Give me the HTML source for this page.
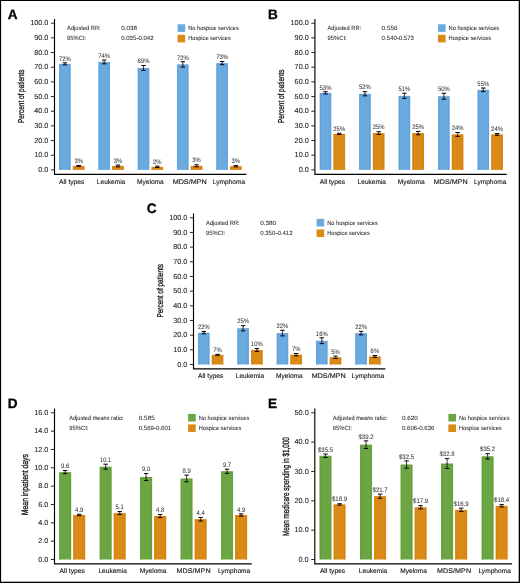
<!DOCTYPE html>
<html><head><meta charset="utf-8"><style>
html,body{margin:0;padding:0;background:#fff;}
body{width:520px;height:583px;overflow:hidden;position:relative;}
svg{position:absolute;left:0;top:0;display:block;font-family:"Liberation Sans", sans-serif;}
text{text-rendering:geometricPrecision;}
.t{will-change:transform;}
</style></head><body>
<svg width="520" height="583" viewBox="0 0 520 583">
<rect x="0" y="0" width="520" height="583" fill="#fff"/>
<g transform="translate(0 0)"><path d="M54.5 19 V174.3 H246.4" fill="none" stroke="#000" stroke-width="1.15"/><path d="M50.9 169.9 H54.5" stroke="#111" stroke-width="0.9"/><path d="M50.9 155.23 H54.5" stroke="#111" stroke-width="0.9"/><path d="M50.9 140.56 H54.5" stroke="#111" stroke-width="0.9"/><path d="M50.9 125.89 H54.5" stroke="#111" stroke-width="0.9"/><path d="M50.9 111.22 H54.5" stroke="#111" stroke-width="0.9"/><path d="M50.9 96.55 H54.5" stroke="#111" stroke-width="0.9"/><path d="M50.9 81.88 H54.5" stroke="#111" stroke-width="0.9"/><path d="M50.9 67.21 H54.5" stroke="#111" stroke-width="0.9"/><path d="M50.9 52.54 H54.5" stroke="#111" stroke-width="0.9"/><path d="M50.9 37.87 H54.5" stroke="#111" stroke-width="0.9"/><path d="M50.9 23.2 H54.5" stroke="#111" stroke-width="0.9"/><rect x="177.6" y="24.3" width="7.6" height="7.6" fill="#6aaadf"/><rect x="177.6" y="34.8" width="7.6" height="7.6" fill="#da8a16"/><rect x="59.05" y="63.84" width="11.7" height="106.06" fill="#6aaadf"/><path d="M59.95 169.9 V64.74 H69.65 V169.9" fill="none" stroke="#60a2dc" stroke-width="1"/><path d="M64.9 62.79 V63.84" stroke="#3a2228" stroke-width="0.9"/><path d="M64.9 63.84 V64.89" stroke="#111" stroke-width="0.9"/><path d="M62.7 62.79 H67.1 M62.7 64.89 H67.1" stroke="#000" stroke-width="1"/><rect x="64.3" y="63.34" width="1.2" height="1" fill="#8c2a40"/><rect x="72.8" y="165.94" width="11.7" height="3.96" fill="#da8a16"/><path d="M73.7 169.9 V166.84 H83.4 V169.9" fill="none" stroke="#d6820e" stroke-width="1"/><path d="M78.65 165.44 V165.94" stroke="#3a2228" stroke-width="0.9"/><path d="M78.65 165.94 V166.44" stroke="#111" stroke-width="0.9"/><path d="M76.45 165.44 H80.85 M76.45 166.44 H80.85" stroke="#000" stroke-width="1"/><rect x="78.05" y="165.44" width="1.2" height="1" fill="#8c2a40"/><rect x="98.35" y="61.93" width="11.7" height="107.97" fill="#6aaadf"/><path d="M99.25 169.9 V62.83 H108.95 V169.9" fill="none" stroke="#60a2dc" stroke-width="1"/><path d="M104.2 60.03 V61.93" stroke="#3a2228" stroke-width="0.9"/><path d="M104.2 61.93 V63.83" stroke="#111" stroke-width="0.9"/><path d="M102 60.03 H106.4 M102 63.83 H106.4" stroke="#000" stroke-width="1"/><rect x="103.6" y="61.43" width="1.2" height="1" fill="#8c2a40"/><rect x="112.1" y="165.94" width="11.7" height="3.96" fill="#da8a16"/><path d="M113 169.9 V166.84 H122.7 V169.9" fill="none" stroke="#d6820e" stroke-width="1"/><path d="M117.95 165.04 V165.94" stroke="#3a2228" stroke-width="0.9"/><path d="M117.95 165.94 V166.84" stroke="#111" stroke-width="0.9"/><path d="M115.75 165.04 H120.15 M115.75 166.84 H120.15" stroke="#000" stroke-width="1"/><rect x="117.35" y="165.44" width="1.2" height="1" fill="#8c2a40"/><rect x="137.65" y="67.94" width="11.7" height="101.96" fill="#6aaadf"/><path d="M138.55 169.9 V68.84 H148.25 V169.9" fill="none" stroke="#60a2dc" stroke-width="1"/><path d="M143.5 65.54 V67.94" stroke="#3a2228" stroke-width="0.9"/><path d="M143.5 67.94 V70.34" stroke="#111" stroke-width="0.9"/><path d="M141.3 65.54 H145.7 M141.3 70.34 H145.7" stroke="#000" stroke-width="1"/><rect x="142.9" y="67.44" width="1.2" height="1" fill="#8c2a40"/><rect x="151.4" y="166.82" width="11.7" height="3.08" fill="#da8a16"/><path d="M152.3 169.9 V167.72 H162 V169.9" fill="none" stroke="#d6820e" stroke-width="1"/><path d="M157.25 166.12 V166.82" stroke="#3a2228" stroke-width="0.9"/><path d="M157.25 166.82 V167.52" stroke="#111" stroke-width="0.9"/><path d="M155.05 166.12 H159.45 M155.05 167.52 H159.45" stroke="#000" stroke-width="1"/><rect x="156.65" y="166.32" width="1.2" height="1" fill="#8c2a40"/><rect x="176.95" y="64.42" width="11.7" height="105.48" fill="#6aaadf"/><path d="M177.85 169.9 V65.32 H187.55 V169.9" fill="none" stroke="#60a2dc" stroke-width="1"/><path d="M182.8 61.72 V64.42" stroke="#3a2228" stroke-width="0.9"/><path d="M182.8 64.42 V67.12" stroke="#111" stroke-width="0.9"/><path d="M180.6 61.72 H185 M180.6 67.12 H185" stroke="#000" stroke-width="1"/><rect x="182.2" y="63.92" width="1.2" height="1" fill="#8c2a40"/><rect x="190.7" y="165.79" width="11.7" height="4.11" fill="#da8a16"/><path d="M191.6 169.9 V166.69 H201.3 V169.9" fill="none" stroke="#d6820e" stroke-width="1"/><path d="M196.55 164.79 V165.79" stroke="#3a2228" stroke-width="0.9"/><path d="M196.55 165.79 V166.79" stroke="#111" stroke-width="0.9"/><path d="M194.35 164.79 H198.75 M194.35 166.79 H198.75" stroke="#000" stroke-width="1"/><rect x="195.95" y="165.29" width="1.2" height="1" fill="#8c2a40"/><rect x="216.25" y="63.1" width="11.7" height="106.8" fill="#6aaadf"/><path d="M217.15 169.9 V64 H226.85 V169.9" fill="none" stroke="#60a2dc" stroke-width="1"/><path d="M222.1 61.5 V63.1" stroke="#3a2228" stroke-width="0.9"/><path d="M222.1 63.1 V64.7" stroke="#111" stroke-width="0.9"/><path d="M219.9 61.5 H224.3 M219.9 64.7 H224.3" stroke="#000" stroke-width="1"/><rect x="221.5" y="62.6" width="1.2" height="1" fill="#8c2a40"/><rect x="230" y="166.23" width="11.7" height="3.67" fill="#da8a16"/><path d="M230.9 169.9 V167.13 H240.6 V169.9" fill="none" stroke="#d6820e" stroke-width="1"/><path d="M235.85 165.63 V166.23" stroke="#3a2228" stroke-width="0.9"/><path d="M235.85 166.23 V166.83" stroke="#111" stroke-width="0.9"/><path d="M233.65 165.63 H238.05 M233.65 166.83 H238.05" stroke="#000" stroke-width="1"/><rect x="235.25" y="165.73" width="1.2" height="1" fill="#8c2a40"/></g><g transform="translate(260.4 0)"><path d="M54.5 19 V174.3 H246.4" fill="none" stroke="#000" stroke-width="1.15"/><path d="M50.9 169.9 H54.5" stroke="#111" stroke-width="0.9"/><path d="M50.9 155.23 H54.5" stroke="#111" stroke-width="0.9"/><path d="M50.9 140.56 H54.5" stroke="#111" stroke-width="0.9"/><path d="M50.9 125.89 H54.5" stroke="#111" stroke-width="0.9"/><path d="M50.9 111.22 H54.5" stroke="#111" stroke-width="0.9"/><path d="M50.9 96.55 H54.5" stroke="#111" stroke-width="0.9"/><path d="M50.9 81.88 H54.5" stroke="#111" stroke-width="0.9"/><path d="M50.9 67.21 H54.5" stroke="#111" stroke-width="0.9"/><path d="M50.9 52.54 H54.5" stroke="#111" stroke-width="0.9"/><path d="M50.9 37.87 H54.5" stroke="#111" stroke-width="0.9"/><path d="M50.9 23.2 H54.5" stroke="#111" stroke-width="0.9"/><rect x="177.6" y="24.3" width="7.6" height="7.6" fill="#6aaadf"/><rect x="177.6" y="34.8" width="7.6" height="7.6" fill="#da8a16"/><rect x="59.25" y="92.88" width="11.7" height="77.02" fill="#6aaadf"/><path d="M60.15 169.9 V93.78 H69.85 V169.9" fill="none" stroke="#60a2dc" stroke-width="1"/><path d="M65.1 91.73 V92.88" stroke="#3a2228" stroke-width="0.9"/><path d="M65.1 92.88 V94.03" stroke="#111" stroke-width="0.9"/><path d="M62.9 91.73 H67.3 M62.9 94.03 H67.3" stroke="#000" stroke-width="1"/><rect x="64.5" y="92.38" width="1.2" height="1" fill="#8c2a40"/><rect x="73" y="133.81" width="11.7" height="36.09" fill="#da8a16"/><path d="M73.9 169.9 V134.71 H83.6 V169.9" fill="none" stroke="#d6820e" stroke-width="1"/><path d="M78.85 133.21 V133.81" stroke="#3a2228" stroke-width="0.9"/><path d="M78.85 133.81 V134.41" stroke="#111" stroke-width="0.9"/><path d="M76.65 133.21 H81.05 M76.65 134.41 H81.05" stroke="#000" stroke-width="1"/><rect x="78.25" y="133.31" width="1.2" height="1" fill="#8c2a40"/><rect x="98.7" y="93.76" width="11.7" height="76.14" fill="#6aaadf"/><path d="M99.6 169.9 V94.66 H109.3 V169.9" fill="none" stroke="#60a2dc" stroke-width="1"/><path d="M104.55 91.66 V93.76" stroke="#3a2228" stroke-width="0.9"/><path d="M104.55 93.76 V95.86" stroke="#111" stroke-width="0.9"/><path d="M102.35 91.66 H106.75 M102.35 95.86 H106.75" stroke="#000" stroke-width="1"/><rect x="103.95" y="93.26" width="1.2" height="1" fill="#8c2a40"/><rect x="112.45" y="133.08" width="11.7" height="36.82" fill="#da8a16"/><path d="M113.35 169.9 V133.98 H123.05 V169.9" fill="none" stroke="#d6820e" stroke-width="1"/><path d="M118.3 131.68 V133.08" stroke="#3a2228" stroke-width="0.9"/><path d="M118.3 133.08 V134.48" stroke="#111" stroke-width="0.9"/><path d="M116.1 131.68 H120.5 M116.1 134.48 H120.5" stroke="#000" stroke-width="1"/><rect x="117.7" y="132.58" width="1.2" height="1" fill="#8c2a40"/><rect x="138.15" y="95.82" width="11.7" height="74.08" fill="#6aaadf"/><path d="M139.05 169.9 V96.72 H148.75 V169.9" fill="none" stroke="#60a2dc" stroke-width="1"/><path d="M144 93.22 V95.82" stroke="#3a2228" stroke-width="0.9"/><path d="M144 95.82 V98.42" stroke="#111" stroke-width="0.9"/><path d="M141.8 93.22 H146.2 M141.8 98.42 H146.2" stroke="#000" stroke-width="1"/><rect x="143.4" y="95.32" width="1.2" height="1" fill="#8c2a40"/><rect x="151.9" y="133.08" width="11.7" height="36.82" fill="#da8a16"/><path d="M152.8 169.9 V133.98 H162.5 V169.9" fill="none" stroke="#d6820e" stroke-width="1"/><path d="M157.75 131.38 V133.08" stroke="#3a2228" stroke-width="0.9"/><path d="M157.75 133.08 V134.78" stroke="#111" stroke-width="0.9"/><path d="M155.55 131.38 H159.95 M155.55 134.78 H159.95" stroke="#000" stroke-width="1"/><rect x="157.15" y="132.58" width="1.2" height="1" fill="#8c2a40"/><rect x="177.6" y="96.26" width="11.7" height="73.64" fill="#6aaadf"/><path d="M178.5 169.9 V97.16 H188.2 V169.9" fill="none" stroke="#60a2dc" stroke-width="1"/><path d="M183.45 93.31 V96.26" stroke="#3a2228" stroke-width="0.9"/><path d="M183.45 96.26 V99.21" stroke="#111" stroke-width="0.9"/><path d="M181.25 93.31 H185.65 M181.25 99.21 H185.65" stroke="#000" stroke-width="1"/><rect x="182.85" y="95.76" width="1.2" height="1" fill="#8c2a40"/><rect x="191.35" y="134.4" width="11.7" height="35.5" fill="#da8a16"/><path d="M192.25 169.9 V135.3 H201.95 V169.9" fill="none" stroke="#d6820e" stroke-width="1"/><path d="M197.2 132.5 V134.4" stroke="#3a2228" stroke-width="0.9"/><path d="M197.2 134.4 V136.3" stroke="#111" stroke-width="0.9"/><path d="M195 132.5 H199.4 M195 136.3 H199.4" stroke="#000" stroke-width="1"/><rect x="196.6" y="133.9" width="1.2" height="1" fill="#8c2a40"/><rect x="217.05" y="89.8" width="11.7" height="80.1" fill="#6aaadf"/><path d="M217.95 169.9 V90.7 H227.65 V169.9" fill="none" stroke="#60a2dc" stroke-width="1"/><path d="M222.9 88 V89.8" stroke="#3a2228" stroke-width="0.9"/><path d="M222.9 89.8 V91.6" stroke="#111" stroke-width="0.9"/><path d="M220.7 88 H225.1 M220.7 91.6 H225.1" stroke="#000" stroke-width="1"/><rect x="222.3" y="89.3" width="1.2" height="1" fill="#8c2a40"/><rect x="230.8" y="134.4" width="11.7" height="35.5" fill="#da8a16"/><path d="M231.7 169.9 V135.3 H241.4 V169.9" fill="none" stroke="#d6820e" stroke-width="1"/><path d="M236.65 133.55 V134.4" stroke="#3a2228" stroke-width="0.9"/><path d="M236.65 134.4 V135.25" stroke="#111" stroke-width="0.9"/><path d="M234.45 133.55 H238.85 M234.45 135.25 H238.85" stroke="#000" stroke-width="1"/><rect x="236.05" y="133.9" width="1.2" height="1" fill="#8c2a40"/></g><g transform="translate(139 194.6)"><path d="M54.5 19 V174.3 H246.4" fill="none" stroke="#000" stroke-width="1.15"/><path d="M50.9 169.9 H54.5" stroke="#111" stroke-width="0.9"/><path d="M50.9 155.23 H54.5" stroke="#111" stroke-width="0.9"/><path d="M50.9 140.56 H54.5" stroke="#111" stroke-width="0.9"/><path d="M50.9 125.89 H54.5" stroke="#111" stroke-width="0.9"/><path d="M50.9 111.22 H54.5" stroke="#111" stroke-width="0.9"/><path d="M50.9 96.55 H54.5" stroke="#111" stroke-width="0.9"/><path d="M50.9 81.88 H54.5" stroke="#111" stroke-width="0.9"/><path d="M50.9 67.21 H54.5" stroke="#111" stroke-width="0.9"/><path d="M50.9 52.54 H54.5" stroke="#111" stroke-width="0.9"/><path d="M50.9 37.87 H54.5" stroke="#111" stroke-width="0.9"/><path d="M50.9 23.2 H54.5" stroke="#111" stroke-width="0.9"/><rect x="177.6" y="24.3" width="7.6" height="7.6" fill="#6aaadf"/><rect x="177.6" y="34.8" width="7.6" height="7.6" fill="#da8a16"/><rect x="58.95" y="138.07" width="11.7" height="31.83" fill="#6aaadf"/><path d="M59.85 169.9 V138.97 H69.55 V169.9" fill="none" stroke="#60a2dc" stroke-width="1"/><path d="M64.8 136.87 V138.07" stroke="#3a2228" stroke-width="0.9"/><path d="M64.8 138.07 V139.27" stroke="#111" stroke-width="0.9"/><path d="M62.6 136.87 H67 M62.6 139.27 H67" stroke="#000" stroke-width="1"/><rect x="64.2" y="137.57" width="1.2" height="1" fill="#8c2a40"/><rect x="72.7" y="160.22" width="11.7" height="9.68" fill="#da8a16"/><path d="M73.6 169.9 V161.12 H83.3 V169.9" fill="none" stroke="#d6820e" stroke-width="1"/><path d="M78.55 159.72 V160.22" stroke="#3a2228" stroke-width="0.9"/><path d="M78.55 160.22 V160.72" stroke="#111" stroke-width="0.9"/><path d="M76.35 159.72 H80.75 M76.35 160.72 H80.75" stroke="#000" stroke-width="1"/><rect x="77.95" y="159.72" width="1.2" height="1" fill="#8c2a40"/><rect x="98.28" y="133.67" width="11.7" height="36.23" fill="#6aaadf"/><path d="M99.18 169.9 V134.57 H108.88 V169.9" fill="none" stroke="#60a2dc" stroke-width="1"/><path d="M104.13 131.07 V133.67" stroke="#3a2228" stroke-width="0.9"/><path d="M104.13 133.67 V136.27" stroke="#111" stroke-width="0.9"/><path d="M101.93 131.07 H106.33 M101.93 136.27 H106.33" stroke="#000" stroke-width="1"/><rect x="103.53" y="133.17" width="1.2" height="1" fill="#8c2a40"/><rect x="112.03" y="155.38" width="11.7" height="14.52" fill="#da8a16"/><path d="M112.93 169.9 V156.28 H122.63 V169.9" fill="none" stroke="#d6820e" stroke-width="1"/><path d="M117.88 153.98 V155.38" stroke="#3a2228" stroke-width="0.9"/><path d="M117.88 155.38 V156.78" stroke="#111" stroke-width="0.9"/><path d="M115.68 153.98 H120.08 M115.68 156.78 H120.08" stroke="#000" stroke-width="1"/><rect x="117.28" y="154.88" width="1.2" height="1" fill="#8c2a40"/><rect x="137.61" y="138.51" width="11.7" height="31.39" fill="#6aaadf"/><path d="M138.51 169.9 V139.41 H148.21 V169.9" fill="none" stroke="#60a2dc" stroke-width="1"/><path d="M143.46 135.71 V138.51" stroke="#3a2228" stroke-width="0.9"/><path d="M143.46 138.51 V141.31" stroke="#111" stroke-width="0.9"/><path d="M141.26 135.71 H145.66 M141.26 141.31 H145.66" stroke="#000" stroke-width="1"/><rect x="142.86" y="138.01" width="1.2" height="1" fill="#8c2a40"/><rect x="151.36" y="160.07" width="11.7" height="9.83" fill="#da8a16"/><path d="M152.26 169.9 V160.97 H161.96 V169.9" fill="none" stroke="#d6820e" stroke-width="1"/><path d="M157.21 158.87 V160.07" stroke="#3a2228" stroke-width="0.9"/><path d="M157.21 160.07 V161.27" stroke="#111" stroke-width="0.9"/><path d="M155.01 158.87 H159.41 M155.01 161.27 H159.41" stroke="#000" stroke-width="1"/><rect x="156.61" y="159.57" width="1.2" height="1" fill="#8c2a40"/><rect x="176.94" y="146.13" width="11.7" height="23.77" fill="#6aaadf"/><path d="M177.84 169.9 V147.03 H187.54 V169.9" fill="none" stroke="#60a2dc" stroke-width="1"/><path d="M182.79 143.23 V146.13" stroke="#3a2228" stroke-width="0.9"/><path d="M182.79 146.13 V149.03" stroke="#111" stroke-width="0.9"/><path d="M180.59 143.23 H184.99 M180.59 149.03 H184.99" stroke="#000" stroke-width="1"/><rect x="182.19" y="145.63" width="1.2" height="1" fill="#8c2a40"/><rect x="190.69" y="162.71" width="11.7" height="7.19" fill="#da8a16"/><path d="M191.59 169.9 V163.61 H201.29 V169.9" fill="none" stroke="#d6820e" stroke-width="1"/><path d="M196.54 161.51 V162.71" stroke="#3a2228" stroke-width="0.9"/><path d="M196.54 162.71 V163.91" stroke="#111" stroke-width="0.9"/><path d="M194.34 161.51 H198.74 M194.34 163.91 H198.74" stroke="#000" stroke-width="1"/><rect x="195.94" y="162.21" width="1.2" height="1" fill="#8c2a40"/><rect x="216.27" y="138.51" width="11.7" height="31.39" fill="#6aaadf"/><path d="M217.17 169.9 V139.41 H226.87 V169.9" fill="none" stroke="#60a2dc" stroke-width="1"/><path d="M222.12 136.71 V138.51" stroke="#3a2228" stroke-width="0.9"/><path d="M222.12 138.51 V140.31" stroke="#111" stroke-width="0.9"/><path d="M219.92 136.71 H224.32 M219.92 140.31 H224.32" stroke="#000" stroke-width="1"/><rect x="221.52" y="138.01" width="1.2" height="1" fill="#8c2a40"/><rect x="230.02" y="161.83" width="11.7" height="8.07" fill="#da8a16"/><path d="M230.92 169.9 V162.73 H240.62 V169.9" fill="none" stroke="#d6820e" stroke-width="1"/><path d="M235.87 160.88 V161.83" stroke="#3a2228" stroke-width="0.9"/><path d="M235.87 161.83 V162.78" stroke="#111" stroke-width="0.9"/><path d="M233.67 160.88 H238.07 M233.67 162.78 H238.07" stroke="#000" stroke-width="1"/><rect x="235.27" y="161.33" width="1.2" height="1" fill="#8c2a40"/></g><g transform="translate(0 389.6)"><path d="M54.5 19 V174.3 H251.8" fill="none" stroke="#000" stroke-width="1.15"/><path d="M50.9 169.9 H54.5" stroke="#111" stroke-width="0.9"/><path d="M50.9 151.56 H54.5" stroke="#111" stroke-width="0.9"/><path d="M50.9 133.22 H54.5" stroke="#111" stroke-width="0.9"/><path d="M50.9 114.89 H54.5" stroke="#111" stroke-width="0.9"/><path d="M50.9 96.55 H54.5" stroke="#111" stroke-width="0.9"/><path d="M50.9 78.21 H54.5" stroke="#111" stroke-width="0.9"/><path d="M50.9 59.88 H54.5" stroke="#111" stroke-width="0.9"/><path d="M50.9 41.54 H54.5" stroke="#111" stroke-width="0.9"/><path d="M50.9 23.2 H54.5" stroke="#111" stroke-width="0.9"/><rect x="188.1" y="24.3" width="7.6" height="7.6" fill="#6ca644"/><rect x="188.1" y="34.8" width="7.6" height="7.6" fill="#da8a16"/><rect x="59.15" y="82.5" width="12.05" height="87.4" fill="#6ca644"/><path d="M60.05 169.9 V83.4 H70.1 V169.9" fill="none" stroke="#62a03a" stroke-width="1"/><path d="M65.17 80.9 V82.5" stroke="#3a2228" stroke-width="0.9"/><path d="M65.17 82.5 V84.1" stroke="#111" stroke-width="0.9"/><path d="M62.97 80.9 H67.38 M62.97 84.1 H67.38" stroke="#000" stroke-width="1"/><rect x="64.58" y="82" width="1.2" height="1" fill="#8c2a40"/><rect x="73.2" y="125.4" width="12.05" height="44.5" fill="#da8a16"/><path d="M74.1 169.9 V126.3 H84.15 V169.9" fill="none" stroke="#d6820e" stroke-width="1"/><path d="M79.23 124.65 V125.4" stroke="#3a2228" stroke-width="0.9"/><path d="M79.23 125.4 V126.15" stroke="#111" stroke-width="0.9"/><path d="M77.03 124.65 H81.43 M77.03 126.15 H81.43" stroke="#000" stroke-width="1"/><rect x="78.63" y="124.9" width="1.2" height="1" fill="#8c2a40"/><rect x="99.62" y="77.1" width="12.05" height="92.8" fill="#6ca644"/><path d="M100.52 169.9 V78 H110.57 V169.9" fill="none" stroke="#62a03a" stroke-width="1"/><path d="M105.65 74.6 V77.1" stroke="#3a2228" stroke-width="0.9"/><path d="M105.65 77.1 V79.6" stroke="#111" stroke-width="0.9"/><path d="M103.45 74.6 H107.85 M103.45 79.6 H107.85" stroke="#000" stroke-width="1"/><rect x="105.05" y="76.6" width="1.2" height="1" fill="#8c2a40"/><rect x="113.67" y="123.49" width="12.05" height="46.41" fill="#da8a16"/><path d="M114.57 169.9 V124.39 H124.62 V169.9" fill="none" stroke="#d6820e" stroke-width="1"/><path d="M119.7 121.99 V123.49" stroke="#3a2228" stroke-width="0.9"/><path d="M119.7 123.49 V124.99" stroke="#111" stroke-width="0.9"/><path d="M117.5 121.99 H121.9 M117.5 124.99 H121.9" stroke="#000" stroke-width="1"/><rect x="119.1" y="122.99" width="1.2" height="1" fill="#8c2a40"/><rect x="140.09" y="87.42" width="12.05" height="82.48" fill="#6ca644"/><path d="M140.99 169.9 V88.32 H151.04 V169.9" fill="none" stroke="#62a03a" stroke-width="1"/><path d="M146.12 83.97 V87.42" stroke="#3a2228" stroke-width="0.9"/><path d="M146.12 87.42 V90.87" stroke="#111" stroke-width="0.9"/><path d="M143.92 83.97 H148.31 M143.92 90.87 H148.31" stroke="#000" stroke-width="1"/><rect x="145.52" y="86.92" width="1.2" height="1" fill="#8c2a40"/><rect x="154.14" y="126.41" width="12.05" height="43.49" fill="#da8a16"/><path d="M155.04 169.9 V127.31 H165.09 V169.9" fill="none" stroke="#d6820e" stroke-width="1"/><path d="M160.17 124.81 V126.41" stroke="#3a2228" stroke-width="0.9"/><path d="M160.17 126.41 V128.01" stroke="#111" stroke-width="0.9"/><path d="M157.97 124.81 H162.37 M157.97 128.01 H162.37" stroke="#000" stroke-width="1"/><rect x="159.57" y="125.91" width="1.2" height="1" fill="#8c2a40"/><rect x="180.56" y="88.88" width="12.05" height="81.02" fill="#6ca644"/><path d="M181.46 169.9 V89.78 H191.51 V169.9" fill="none" stroke="#62a03a" stroke-width="1"/><path d="M186.59 85.53 V88.88" stroke="#3a2228" stroke-width="0.9"/><path d="M186.59 88.88 V92.23" stroke="#111" stroke-width="0.9"/><path d="M184.39 85.53 H188.78 M184.39 92.23 H188.78" stroke="#000" stroke-width="1"/><rect x="185.99" y="88.38" width="1.2" height="1" fill="#8c2a40"/><rect x="194.61" y="129.6" width="12.05" height="40.3" fill="#da8a16"/><path d="M195.51 169.9 V130.5 H205.56 V169.9" fill="none" stroke="#d6820e" stroke-width="1"/><path d="M200.64 127.8 V129.6" stroke="#3a2228" stroke-width="0.9"/><path d="M200.64 129.6 V131.4" stroke="#111" stroke-width="0.9"/><path d="M198.44 127.8 H202.84 M198.44 131.4 H202.84" stroke="#000" stroke-width="1"/><rect x="200.04" y="129.1" width="1.2" height="1" fill="#8c2a40"/><rect x="221.03" y="81.67" width="12.05" height="88.23" fill="#6ca644"/><path d="M221.93 169.9 V82.57 H231.98 V169.9" fill="none" stroke="#62a03a" stroke-width="1"/><path d="M227.06 79.57 V81.67" stroke="#3a2228" stroke-width="0.9"/><path d="M227.06 81.67 V83.77" stroke="#111" stroke-width="0.9"/><path d="M224.86 79.57 H229.25 M224.86 83.77 H229.25" stroke="#000" stroke-width="1"/><rect x="226.46" y="81.17" width="1.2" height="1" fill="#8c2a40"/><rect x="235.08" y="125.4" width="12.05" height="44.5" fill="#da8a16"/><path d="M235.98 169.9 V126.3 H246.03 V169.9" fill="none" stroke="#d6820e" stroke-width="1"/><path d="M241.11 124.3 V125.4" stroke="#3a2228" stroke-width="0.9"/><path d="M241.11 125.4 V126.5" stroke="#111" stroke-width="0.9"/><path d="M238.91 124.3 H243.31 M238.91 126.5 H243.31" stroke="#000" stroke-width="1"/><rect x="240.51" y="124.9" width="1.2" height="1" fill="#8c2a40"/></g><g transform="translate(260.3 389.6)"><path d="M54.5 19 V174.3 H251.8" fill="none" stroke="#000" stroke-width="1.15"/><path d="M50.9 169.9 H54.5" stroke="#111" stroke-width="0.9"/><path d="M50.9 140.56 H54.5" stroke="#111" stroke-width="0.9"/><path d="M50.9 111.22 H54.5" stroke="#111" stroke-width="0.9"/><path d="M50.9 81.88 H54.5" stroke="#111" stroke-width="0.9"/><path d="M50.9 52.54 H54.5" stroke="#111" stroke-width="0.9"/><path d="M50.9 23.2 H54.5" stroke="#111" stroke-width="0.9"/><rect x="188.1" y="24.3" width="7.6" height="7.6" fill="#6ca644"/><rect x="188.1" y="34.8" width="7.6" height="7.6" fill="#da8a16"/><rect x="59.2" y="66.16" width="12.05" height="103.74" fill="#6ca644"/><path d="M60.1 169.9 V67.06 H70.15 V169.9" fill="none" stroke="#62a03a" stroke-width="1"/><path d="M65.23 64.46 V66.16" stroke="#3a2228" stroke-width="0.9"/><path d="M65.23 66.16 V67.86" stroke="#111" stroke-width="0.9"/><path d="M63.03 64.46 H67.43 M63.03 67.86 H67.43" stroke="#000" stroke-width="1"/><rect x="64.63" y="65.66" width="1.2" height="1" fill="#8c2a40"/><rect x="73.25" y="114.81" width="12.05" height="55.09" fill="#da8a16"/><path d="M74.15 169.9 V115.71 H84.2 V169.9" fill="none" stroke="#d6820e" stroke-width="1"/><path d="M79.28 114.16 V114.81" stroke="#3a2228" stroke-width="0.9"/><path d="M79.28 114.81 V115.46" stroke="#111" stroke-width="0.9"/><path d="M77.08 114.16 H81.48 M77.08 115.46 H81.48" stroke="#000" stroke-width="1"/><rect x="78.68" y="114.31" width="1.2" height="1" fill="#8c2a40"/><rect x="99.72" y="55.06" width="12.05" height="114.84" fill="#6ca644"/><path d="M100.62 169.9 V55.96 H110.67 V169.9" fill="none" stroke="#62a03a" stroke-width="1"/><path d="M105.75 51.26 V55.06" stroke="#3a2228" stroke-width="0.9"/><path d="M105.75 55.06 V58.86" stroke="#111" stroke-width="0.9"/><path d="M103.55 51.26 H107.95 M103.55 58.86 H107.95" stroke="#000" stroke-width="1"/><rect x="105.15" y="54.56" width="1.2" height="1" fill="#8c2a40"/><rect x="113.77" y="106.6" width="12.05" height="63.3" fill="#da8a16"/><path d="M114.67 169.9 V107.5 H124.72 V169.9" fill="none" stroke="#d6820e" stroke-width="1"/><path d="M119.8 104.5 V106.6" stroke="#3a2228" stroke-width="0.9"/><path d="M119.8 106.6 V108.7" stroke="#111" stroke-width="0.9"/><path d="M117.59 104.5 H122 M117.59 108.7 H122" stroke="#000" stroke-width="1"/><rect x="119.2" y="106.1" width="1.2" height="1" fill="#8c2a40"/><rect x="140.24" y="74.93" width="12.05" height="94.97" fill="#6ca644"/><path d="M141.14 169.9 V75.83 H151.19 V169.9" fill="none" stroke="#62a03a" stroke-width="1"/><path d="M146.27 71.28 V74.93" stroke="#3a2228" stroke-width="0.9"/><path d="M146.27 74.93 V78.58" stroke="#111" stroke-width="0.9"/><path d="M144.07 71.28 H148.47 M144.07 78.58 H148.47" stroke="#000" stroke-width="1"/><rect x="145.67" y="74.43" width="1.2" height="1" fill="#8c2a40"/><rect x="154.29" y="117.7" width="12.05" height="52.2" fill="#da8a16"/><path d="M155.19 169.9 V118.6 H165.24 V169.9" fill="none" stroke="#d6820e" stroke-width="1"/><path d="M160.32 116.1 V117.7" stroke="#3a2228" stroke-width="0.9"/><path d="M160.32 117.7 V119.3" stroke="#111" stroke-width="0.9"/><path d="M158.12 116.1 H162.52 M158.12 119.3 H162.52" stroke="#000" stroke-width="1"/><rect x="159.72" y="117.2" width="1.2" height="1" fill="#8c2a40"/><rect x="180.76" y="73.91" width="12.05" height="95.99" fill="#6ca644"/><path d="M181.66 169.9 V74.81 H191.71 V169.9" fill="none" stroke="#62a03a" stroke-width="1"/><path d="M186.78 69.01 V73.91" stroke="#3a2228" stroke-width="0.9"/><path d="M186.78 73.91 V78.81" stroke="#111" stroke-width="0.9"/><path d="M184.59 69.01 H188.98 M184.59 78.81 H188.98" stroke="#000" stroke-width="1"/><rect x="186.19" y="73.41" width="1.2" height="1" fill="#8c2a40"/><rect x="194.81" y="120.22" width="12.05" height="49.68" fill="#da8a16"/><path d="M195.71 169.9 V121.12 H205.76 V169.9" fill="none" stroke="#d6820e" stroke-width="1"/><path d="M200.84 118.52 V120.22" stroke="#3a2228" stroke-width="0.9"/><path d="M200.84 120.22 V121.92" stroke="#111" stroke-width="0.9"/><path d="M198.64 118.52 H203.03 M198.64 121.92 H203.03" stroke="#000" stroke-width="1"/><rect x="200.24" y="119.72" width="1.2" height="1" fill="#8c2a40"/><rect x="221.28" y="66.75" width="12.05" height="103.15" fill="#6ca644"/><path d="M222.18 169.9 V67.65 H232.23 V169.9" fill="none" stroke="#62a03a" stroke-width="1"/><path d="M227.31 64.1 V66.75" stroke="#3a2228" stroke-width="0.9"/><path d="M227.31 66.75 V69.4" stroke="#111" stroke-width="0.9"/><path d="M225.11 64.1 H229.51 M225.11 69.4 H229.51" stroke="#000" stroke-width="1"/><rect x="226.71" y="66.25" width="1.2" height="1" fill="#8c2a40"/><rect x="235.33" y="116.21" width="12.05" height="53.69" fill="#da8a16"/><path d="M236.23 169.9 V117.11 H246.28 V169.9" fill="none" stroke="#d6820e" stroke-width="1"/><path d="M241.36 115.06 V116.21" stroke="#3a2228" stroke-width="0.9"/><path d="M241.36 116.21 V117.36" stroke="#111" stroke-width="0.9"/><path d="M239.16 115.06 H243.56 M239.16 117.36 H243.56" stroke="#000" stroke-width="1"/><rect x="240.76" y="115.71" width="1.2" height="1" fill="#8c2a40"/></g>
<rect x="0" y="0" width="520" height="1" fill="#000"/><rect x="0" y="0" width="1.1" height="583" fill="#000"/><rect x="518.7" y="0" width="1.3" height="583" fill="#000"/><rect x="0" y="581.7" width="520" height="1.3" fill="#000"/>
</svg>
<svg class="t" width="520" height="583" viewBox="0 0 520 583">
<g transform="translate(0 0)"><text x="7.7" y="18.7" font-size="13.6" font-weight="bold" fill="#000" stroke="#000" stroke-width="0.3">A</text><text x="48.4" y="172" font-size="7.3" text-anchor="end" fill="#1a1a1a" stroke="#1a1a1a" stroke-width="0.07">0.0</text><text x="48.4" y="157.33" font-size="7.3" text-anchor="end" fill="#1a1a1a" stroke="#1a1a1a" stroke-width="0.07">10.0</text><text x="48.4" y="142.66" font-size="7.3" text-anchor="end" fill="#1a1a1a" stroke="#1a1a1a" stroke-width="0.07">20.0</text><text x="48.4" y="127.99" font-size="7.3" text-anchor="end" fill="#1a1a1a" stroke="#1a1a1a" stroke-width="0.07">30.0</text><text x="48.4" y="113.32" font-size="7.3" text-anchor="end" fill="#1a1a1a" stroke="#1a1a1a" stroke-width="0.07">40.0</text><text x="48.4" y="98.65" font-size="7.3" text-anchor="end" fill="#1a1a1a" stroke="#1a1a1a" stroke-width="0.07">50.0</text><text x="48.4" y="83.98" font-size="7.3" text-anchor="end" fill="#1a1a1a" stroke="#1a1a1a" stroke-width="0.07">60.0</text><text x="48.4" y="69.31" font-size="7.3" text-anchor="end" fill="#1a1a1a" stroke="#1a1a1a" stroke-width="0.07">70.0</text><text x="48.4" y="54.64" font-size="7.3" text-anchor="end" fill="#1a1a1a" stroke="#1a1a1a" stroke-width="0.07">80.0</text><text x="48.4" y="39.97" font-size="7.3" text-anchor="end" fill="#1a1a1a" stroke="#1a1a1a" stroke-width="0.07">90.0</text><text x="48.4" y="25.3" font-size="7.3" text-anchor="end" fill="#1a1a1a" stroke="#1a1a1a" stroke-width="0.07">100.0</text><text transform="translate(24 96.2) rotate(-90)" x="0" y="0" font-size="8.6" text-anchor="middle" stroke="#111" stroke-width="0.3" textLength="53.5" lengthAdjust="spacingAndGlyphs" fill="#111">Percent of patients</text><text x="67.1" y="30.3" font-size="6.1" textLength="33.6" lengthAdjust="spacingAndGlyphs" fill="#2a2a2a" stroke="#2a2a2a" stroke-width="0.06">Adjusted RR:</text><text x="67.1" y="40.4" font-size="6.1" textLength="19.2" lengthAdjust="spacingAndGlyphs" fill="#2a2a2a" stroke="#2a2a2a" stroke-width="0.06">95%CI:</text><text x="121.2" y="30.3" font-size="6.1" textLength="15.9" lengthAdjust="spacingAndGlyphs" fill="#2a2a2a" stroke="#2a2a2a" stroke-width="0.06">0.038</text><text x="121.2" y="40.4" font-size="6.1" textLength="32.4" lengthAdjust="spacingAndGlyphs" fill="#2a2a2a" stroke="#2a2a2a" stroke-width="0.06">0.035-0.042</text><text x="188.2" y="30" font-size="6.1" textLength="50.6" lengthAdjust="spacingAndGlyphs" fill="#2a2a2a" stroke="#2a2a2a" stroke-width="0.06">No hospice services</text><text x="188.2" y="40.4" font-size="6.1" textLength="42.6" lengthAdjust="spacingAndGlyphs" fill="#2a2a2a" stroke="#2a2a2a" stroke-width="0.06">Hospice services</text><text x="64.9" y="60.54" font-size="6.5" text-anchor="middle" textLength="11.84" lengthAdjust="spacingAndGlyphs" fill="#333" stroke="#333" stroke-width="0.05">72%</text><text x="78.65" y="162.64" font-size="6.5" text-anchor="middle" textLength="8.55" lengthAdjust="spacingAndGlyphs" fill="#333" stroke="#333" stroke-width="0.05">3%</text><text x="71.77" y="183.5" font-size="6.7" text-anchor="middle" textLength="25.3" lengthAdjust="spacingAndGlyphs" fill="#151515" stroke="#151515" stroke-width="0.12">All types</text><text x="104.2" y="57.83" font-size="6.5" text-anchor="middle" textLength="11.84" lengthAdjust="spacingAndGlyphs" fill="#333" stroke="#333" stroke-width="0.05">74%</text><text x="117.95" y="162.64" font-size="6.5" text-anchor="middle" textLength="8.55" lengthAdjust="spacingAndGlyphs" fill="#333" stroke="#333" stroke-width="0.05">3%</text><text x="111.07" y="183.5" font-size="6.7" text-anchor="middle" textLength="28.4" lengthAdjust="spacingAndGlyphs" fill="#151515" stroke="#151515" stroke-width="0.12">Leukemia</text><text x="143.5" y="63.34" font-size="6.5" text-anchor="middle" textLength="11.84" lengthAdjust="spacingAndGlyphs" fill="#333" stroke="#333" stroke-width="0.05">69%</text><text x="157.25" y="163.52" font-size="6.5" text-anchor="middle" textLength="8.55" lengthAdjust="spacingAndGlyphs" fill="#333" stroke="#333" stroke-width="0.05">2%</text><text x="150.37" y="183.5" font-size="6.7" text-anchor="middle" textLength="26.8" lengthAdjust="spacingAndGlyphs" fill="#151515" stroke="#151515" stroke-width="0.12">Myeloma</text><text x="182.8" y="59.52" font-size="6.5" text-anchor="middle" textLength="11.84" lengthAdjust="spacingAndGlyphs" fill="#333" stroke="#333" stroke-width="0.05">72%</text><text x="196.55" y="162.49" font-size="6.5" text-anchor="middle" textLength="8.55" lengthAdjust="spacingAndGlyphs" fill="#333" stroke="#333" stroke-width="0.05">3%</text><text x="189.67" y="183.5" font-size="6.7" text-anchor="middle" textLength="34" lengthAdjust="spacingAndGlyphs" fill="#151515" stroke="#151515" stroke-width="0.12">MDS/MPN</text><text x="222.1" y="59.3" font-size="6.5" text-anchor="middle" textLength="11.84" lengthAdjust="spacingAndGlyphs" fill="#333" stroke="#333" stroke-width="0.05">73%</text><text x="235.85" y="162.93" font-size="6.5" text-anchor="middle" textLength="8.55" lengthAdjust="spacingAndGlyphs" fill="#333" stroke="#333" stroke-width="0.05">3%</text><text x="228.97" y="183.5" font-size="6.7" text-anchor="middle" textLength="32.4" lengthAdjust="spacingAndGlyphs" fill="#151515" stroke="#151515" stroke-width="0.12">Lymphoma</text></g><g transform="translate(260.4 0)"><text x="7.7" y="18.7" font-size="13.6" font-weight="bold" fill="#000" stroke="#000" stroke-width="0.3">B</text><text x="48.4" y="172" font-size="7.3" text-anchor="end" fill="#1a1a1a" stroke="#1a1a1a" stroke-width="0.07">0.0</text><text x="48.4" y="157.33" font-size="7.3" text-anchor="end" fill="#1a1a1a" stroke="#1a1a1a" stroke-width="0.07">10.0</text><text x="48.4" y="142.66" font-size="7.3" text-anchor="end" fill="#1a1a1a" stroke="#1a1a1a" stroke-width="0.07">20.0</text><text x="48.4" y="127.99" font-size="7.3" text-anchor="end" fill="#1a1a1a" stroke="#1a1a1a" stroke-width="0.07">30.0</text><text x="48.4" y="113.32" font-size="7.3" text-anchor="end" fill="#1a1a1a" stroke="#1a1a1a" stroke-width="0.07">40.0</text><text x="48.4" y="98.65" font-size="7.3" text-anchor="end" fill="#1a1a1a" stroke="#1a1a1a" stroke-width="0.07">50.0</text><text x="48.4" y="83.98" font-size="7.3" text-anchor="end" fill="#1a1a1a" stroke="#1a1a1a" stroke-width="0.07">60.0</text><text x="48.4" y="69.31" font-size="7.3" text-anchor="end" fill="#1a1a1a" stroke="#1a1a1a" stroke-width="0.07">70.0</text><text x="48.4" y="54.64" font-size="7.3" text-anchor="end" fill="#1a1a1a" stroke="#1a1a1a" stroke-width="0.07">80.0</text><text x="48.4" y="39.97" font-size="7.3" text-anchor="end" fill="#1a1a1a" stroke="#1a1a1a" stroke-width="0.07">90.0</text><text x="48.4" y="25.3" font-size="7.3" text-anchor="end" fill="#1a1a1a" stroke="#1a1a1a" stroke-width="0.07">100.0</text><text transform="translate(24 96.2) rotate(-90)" x="0" y="0" font-size="8.6" text-anchor="middle" stroke="#111" stroke-width="0.3" textLength="53.5" lengthAdjust="spacingAndGlyphs" fill="#111">Percent of patients</text><text x="67.1" y="30.3" font-size="6.1" textLength="33.6" lengthAdjust="spacingAndGlyphs" fill="#2a2a2a" stroke="#2a2a2a" stroke-width="0.06">Adjusted RR:</text><text x="67.1" y="40.4" font-size="6.1" textLength="19.2" lengthAdjust="spacingAndGlyphs" fill="#2a2a2a" stroke="#2a2a2a" stroke-width="0.06">95%CI:</text><text x="121.2" y="30.3" font-size="6.1" textLength="15.9" lengthAdjust="spacingAndGlyphs" fill="#2a2a2a" stroke="#2a2a2a" stroke-width="0.06">0.556</text><text x="121.2" y="40.4" font-size="6.1" textLength="32.4" lengthAdjust="spacingAndGlyphs" fill="#2a2a2a" stroke="#2a2a2a" stroke-width="0.06">0.540-0.573</text><text x="188.2" y="30" font-size="6.1" textLength="50.6" lengthAdjust="spacingAndGlyphs" fill="#2a2a2a" stroke="#2a2a2a" stroke-width="0.06">No hospice services</text><text x="188.2" y="40.4" font-size="6.1" textLength="42.6" lengthAdjust="spacingAndGlyphs" fill="#2a2a2a" stroke="#2a2a2a" stroke-width="0.06">Hospice services</text><text x="65.1" y="89.53" font-size="6.5" text-anchor="middle" textLength="11.84" lengthAdjust="spacingAndGlyphs" fill="#333" stroke="#333" stroke-width="0.05">53%</text><text x="78.85" y="130.51" font-size="6.5" text-anchor="middle" textLength="11.84" lengthAdjust="spacingAndGlyphs" fill="#333" stroke="#333" stroke-width="0.05">25%</text><text x="71.97" y="183.5" font-size="6.7" text-anchor="middle" textLength="25.3" lengthAdjust="spacingAndGlyphs" fill="#151515" stroke="#151515" stroke-width="0.12">All types</text><text x="104.55" y="89.46" font-size="6.5" text-anchor="middle" textLength="11.84" lengthAdjust="spacingAndGlyphs" fill="#333" stroke="#333" stroke-width="0.05">52%</text><text x="118.3" y="129.48" font-size="6.5" text-anchor="middle" textLength="11.84" lengthAdjust="spacingAndGlyphs" fill="#333" stroke="#333" stroke-width="0.05">25%</text><text x="111.42" y="183.5" font-size="6.7" text-anchor="middle" textLength="28.4" lengthAdjust="spacingAndGlyphs" fill="#151515" stroke="#151515" stroke-width="0.12">Leukemia</text><text x="144" y="91.02" font-size="6.5" text-anchor="middle" textLength="11.84" lengthAdjust="spacingAndGlyphs" fill="#333" stroke="#333" stroke-width="0.05">51%</text><text x="157.75" y="129.18" font-size="6.5" text-anchor="middle" textLength="11.84" lengthAdjust="spacingAndGlyphs" fill="#333" stroke="#333" stroke-width="0.05">25%</text><text x="150.88" y="183.5" font-size="6.7" text-anchor="middle" textLength="26.8" lengthAdjust="spacingAndGlyphs" fill="#151515" stroke="#151515" stroke-width="0.12">Myeloma</text><text x="183.45" y="91.11" font-size="6.5" text-anchor="middle" textLength="11.84" lengthAdjust="spacingAndGlyphs" fill="#333" stroke="#333" stroke-width="0.05">50%</text><text x="197.2" y="130.3" font-size="6.5" text-anchor="middle" textLength="11.84" lengthAdjust="spacingAndGlyphs" fill="#333" stroke="#333" stroke-width="0.05">24%</text><text x="190.33" y="183.5" font-size="6.7" text-anchor="middle" textLength="34" lengthAdjust="spacingAndGlyphs" fill="#151515" stroke="#151515" stroke-width="0.12">MDS/MPN</text><text x="222.9" y="85.8" font-size="6.5" text-anchor="middle" textLength="11.84" lengthAdjust="spacingAndGlyphs" fill="#333" stroke="#333" stroke-width="0.05">55%</text><text x="236.65" y="131.1" font-size="6.5" text-anchor="middle" textLength="11.84" lengthAdjust="spacingAndGlyphs" fill="#333" stroke="#333" stroke-width="0.05">24%</text><text x="229.78" y="183.5" font-size="6.7" text-anchor="middle" textLength="32.4" lengthAdjust="spacingAndGlyphs" fill="#151515" stroke="#151515" stroke-width="0.12">Lymphoma</text></g><g transform="translate(139 194.6)"><text x="7.7" y="18.7" font-size="13.6" font-weight="bold" fill="#000" stroke="#000" stroke-width="0.3">C</text><text x="48.4" y="172" font-size="7.3" text-anchor="end" fill="#1a1a1a" stroke="#1a1a1a" stroke-width="0.07">0.0</text><text x="48.4" y="157.33" font-size="7.3" text-anchor="end" fill="#1a1a1a" stroke="#1a1a1a" stroke-width="0.07">10.0</text><text x="48.4" y="142.66" font-size="7.3" text-anchor="end" fill="#1a1a1a" stroke="#1a1a1a" stroke-width="0.07">20.0</text><text x="48.4" y="127.99" font-size="7.3" text-anchor="end" fill="#1a1a1a" stroke="#1a1a1a" stroke-width="0.07">30.0</text><text x="48.4" y="113.32" font-size="7.3" text-anchor="end" fill="#1a1a1a" stroke="#1a1a1a" stroke-width="0.07">40.0</text><text x="48.4" y="98.65" font-size="7.3" text-anchor="end" fill="#1a1a1a" stroke="#1a1a1a" stroke-width="0.07">50.0</text><text x="48.4" y="83.98" font-size="7.3" text-anchor="end" fill="#1a1a1a" stroke="#1a1a1a" stroke-width="0.07">60.0</text><text x="48.4" y="69.31" font-size="7.3" text-anchor="end" fill="#1a1a1a" stroke="#1a1a1a" stroke-width="0.07">70.0</text><text x="48.4" y="54.64" font-size="7.3" text-anchor="end" fill="#1a1a1a" stroke="#1a1a1a" stroke-width="0.07">80.0</text><text x="48.4" y="39.97" font-size="7.3" text-anchor="end" fill="#1a1a1a" stroke="#1a1a1a" stroke-width="0.07">90.0</text><text x="48.4" y="25.3" font-size="7.3" text-anchor="end" fill="#1a1a1a" stroke="#1a1a1a" stroke-width="0.07">100.0</text><text transform="translate(24 96.2) rotate(-90)" x="0" y="0" font-size="8.6" text-anchor="middle" stroke="#111" stroke-width="0.3" textLength="53.5" lengthAdjust="spacingAndGlyphs" fill="#111">Percent of patients</text><text x="67.1" y="30.3" font-size="6.1" textLength="33.6" lengthAdjust="spacingAndGlyphs" fill="#2a2a2a" stroke="#2a2a2a" stroke-width="0.06">Adjusted RR:</text><text x="67.1" y="40.4" font-size="6.1" textLength="19.2" lengthAdjust="spacingAndGlyphs" fill="#2a2a2a" stroke="#2a2a2a" stroke-width="0.06">95%CI:</text><text x="121.2" y="30.3" font-size="6.1" textLength="15.9" lengthAdjust="spacingAndGlyphs" fill="#2a2a2a" stroke="#2a2a2a" stroke-width="0.06">0.380</text><text x="121.2" y="40.4" font-size="6.1" textLength="32.4" lengthAdjust="spacingAndGlyphs" fill="#2a2a2a" stroke="#2a2a2a" stroke-width="0.06">0.350-0.412</text><text x="188.2" y="30" font-size="6.1" textLength="50.6" lengthAdjust="spacingAndGlyphs" fill="#2a2a2a" stroke="#2a2a2a" stroke-width="0.06">No hospice services</text><text x="188.2" y="40.4" font-size="6.1" textLength="42.6" lengthAdjust="spacingAndGlyphs" fill="#2a2a2a" stroke="#2a2a2a" stroke-width="0.06">Hospice services</text><text x="64.8" y="134.67" font-size="6.5" text-anchor="middle" textLength="11.84" lengthAdjust="spacingAndGlyphs" fill="#333" stroke="#333" stroke-width="0.05">22%</text><text x="78.55" y="156.92" font-size="6.5" text-anchor="middle" textLength="8.55" lengthAdjust="spacingAndGlyphs" fill="#333" stroke="#333" stroke-width="0.05">7%</text><text x="71.67" y="183.5" font-size="6.7" text-anchor="middle" textLength="25.3" lengthAdjust="spacingAndGlyphs" fill="#151515" stroke="#151515" stroke-width="0.12">All types</text><text x="104.13" y="128.87" font-size="6.5" text-anchor="middle" textLength="11.84" lengthAdjust="spacingAndGlyphs" fill="#333" stroke="#333" stroke-width="0.05">25%</text><text x="117.88" y="151.78" font-size="6.5" text-anchor="middle" textLength="11.84" lengthAdjust="spacingAndGlyphs" fill="#333" stroke="#333" stroke-width="0.05">10%</text><text x="111" y="183.5" font-size="6.7" text-anchor="middle" textLength="28.4" lengthAdjust="spacingAndGlyphs" fill="#151515" stroke="#151515" stroke-width="0.12">Leukemia</text><text x="143.46" y="133.51" font-size="6.5" text-anchor="middle" textLength="11.84" lengthAdjust="spacingAndGlyphs" fill="#333" stroke="#333" stroke-width="0.05">22%</text><text x="157.21" y="156.67" font-size="6.5" text-anchor="middle" textLength="8.55" lengthAdjust="spacingAndGlyphs" fill="#333" stroke="#333" stroke-width="0.05">7%</text><text x="150.34" y="183.5" font-size="6.7" text-anchor="middle" textLength="26.8" lengthAdjust="spacingAndGlyphs" fill="#151515" stroke="#151515" stroke-width="0.12">Myeloma</text><text x="182.79" y="141.03" font-size="6.5" text-anchor="middle" textLength="11.84" lengthAdjust="spacingAndGlyphs" fill="#333" stroke="#333" stroke-width="0.05">16%</text><text x="196.54" y="159.31" font-size="6.5" text-anchor="middle" textLength="8.55" lengthAdjust="spacingAndGlyphs" fill="#333" stroke="#333" stroke-width="0.05">5%</text><text x="189.66" y="183.5" font-size="6.7" text-anchor="middle" textLength="34" lengthAdjust="spacingAndGlyphs" fill="#151515" stroke="#151515" stroke-width="0.12">MDS/MPN</text><text x="222.12" y="134.51" font-size="6.5" text-anchor="middle" textLength="11.84" lengthAdjust="spacingAndGlyphs" fill="#333" stroke="#333" stroke-width="0.05">22%</text><text x="235.87" y="158.53" font-size="6.5" text-anchor="middle" textLength="8.55" lengthAdjust="spacingAndGlyphs" fill="#333" stroke="#333" stroke-width="0.05">6%</text><text x="228.99" y="183.5" font-size="6.7" text-anchor="middle" textLength="32.4" lengthAdjust="spacingAndGlyphs" fill="#151515" stroke="#151515" stroke-width="0.12">Lymphoma</text></g><g transform="translate(0 389.6)"><text x="7.7" y="18.7" font-size="13.6" font-weight="bold" fill="#000" stroke="#000" stroke-width="0.3">D</text><text x="48.4" y="172" font-size="7.3" text-anchor="end" fill="#1a1a1a" stroke="#1a1a1a" stroke-width="0.07">0.0</text><text x="48.4" y="153.66" font-size="7.3" text-anchor="end" fill="#1a1a1a" stroke="#1a1a1a" stroke-width="0.07">2.0</text><text x="48.4" y="135.32" font-size="7.3" text-anchor="end" fill="#1a1a1a" stroke="#1a1a1a" stroke-width="0.07">4.0</text><text x="48.4" y="116.99" font-size="7.3" text-anchor="end" fill="#1a1a1a" stroke="#1a1a1a" stroke-width="0.07">6.0</text><text x="48.4" y="98.65" font-size="7.3" text-anchor="end" fill="#1a1a1a" stroke="#1a1a1a" stroke-width="0.07">8.0</text><text x="48.4" y="80.31" font-size="7.3" text-anchor="end" fill="#1a1a1a" stroke="#1a1a1a" stroke-width="0.07">10.0</text><text x="48.4" y="61.98" font-size="7.3" text-anchor="end" fill="#1a1a1a" stroke="#1a1a1a" stroke-width="0.07">12.0</text><text x="48.4" y="43.64" font-size="7.3" text-anchor="end" fill="#1a1a1a" stroke="#1a1a1a" stroke-width="0.07">14.0</text><text x="48.4" y="25.3" font-size="7.3" text-anchor="end" fill="#1a1a1a" stroke="#1a1a1a" stroke-width="0.07">16.0</text><text transform="translate(28.3 95) rotate(-90)" x="0" y="0" font-size="9.2" text-anchor="middle" stroke="#111" stroke-width="0.3" textLength="61.1" lengthAdjust="spacingAndGlyphs" fill="#111">Mean inpatient days</text><text x="69.2" y="30.3" font-size="6.1" textLength="54.4" lengthAdjust="spacingAndGlyphs" fill="#2a2a2a" stroke="#2a2a2a" stroke-width="0.06">Adjusted means ratio:</text><text x="69.2" y="40.4" font-size="6.1" textLength="19.2" lengthAdjust="spacingAndGlyphs" fill="#2a2a2a" stroke="#2a2a2a" stroke-width="0.06">95%CI:</text><text x="138.8" y="30.3" font-size="6.1" textLength="15.9" lengthAdjust="spacingAndGlyphs" fill="#2a2a2a" stroke="#2a2a2a" stroke-width="0.06">0.585</text><text x="138.8" y="40.4" font-size="6.1" textLength="32.4" lengthAdjust="spacingAndGlyphs" fill="#2a2a2a" stroke="#2a2a2a" stroke-width="0.06">0.569-0.601</text><text x="198.7" y="30" font-size="6.1" textLength="50.6" lengthAdjust="spacingAndGlyphs" fill="#2a2a2a" stroke="#2a2a2a" stroke-width="0.06">No hospice services</text><text x="198.7" y="40.4" font-size="6.1" textLength="42.6" lengthAdjust="spacingAndGlyphs" fill="#2a2a2a" stroke="#2a2a2a" stroke-width="0.06">Hospice services</text><text x="65.17" y="78.7" font-size="6.5" text-anchor="middle" textLength="8.22" lengthAdjust="spacingAndGlyphs" fill="#333" stroke="#333" stroke-width="0.05">9.6</text><text x="79.23" y="122.1" font-size="6.5" text-anchor="middle" textLength="8.22" lengthAdjust="spacingAndGlyphs" fill="#333" stroke="#333" stroke-width="0.05">4.9</text><text x="72.2" y="183.5" font-size="6.7" text-anchor="middle" textLength="25.3" lengthAdjust="spacingAndGlyphs" fill="#151515" stroke="#151515" stroke-width="0.12">All types</text><text x="105.65" y="72.4" font-size="6.5" text-anchor="middle" textLength="11.51" lengthAdjust="spacingAndGlyphs" fill="#333" stroke="#333" stroke-width="0.05">10.1</text><text x="119.7" y="119.79" font-size="6.5" text-anchor="middle" textLength="8.22" lengthAdjust="spacingAndGlyphs" fill="#333" stroke="#333" stroke-width="0.05">5.1</text><text x="112.67" y="183.5" font-size="6.7" text-anchor="middle" textLength="28.4" lengthAdjust="spacingAndGlyphs" fill="#151515" stroke="#151515" stroke-width="0.12">Leukemia</text><text x="146.12" y="81.77" font-size="6.5" text-anchor="middle" textLength="8.22" lengthAdjust="spacingAndGlyphs" fill="#333" stroke="#333" stroke-width="0.05">9.0</text><text x="160.17" y="122.61" font-size="6.5" text-anchor="middle" textLength="8.22" lengthAdjust="spacingAndGlyphs" fill="#333" stroke="#333" stroke-width="0.05">4.8</text><text x="153.14" y="183.5" font-size="6.7" text-anchor="middle" textLength="26.8" lengthAdjust="spacingAndGlyphs" fill="#151515" stroke="#151515" stroke-width="0.12">Myeloma</text><text x="186.59" y="83.33" font-size="6.5" text-anchor="middle" textLength="8.22" lengthAdjust="spacingAndGlyphs" fill="#333" stroke="#333" stroke-width="0.05">8.9</text><text x="200.64" y="125.6" font-size="6.5" text-anchor="middle" textLength="8.22" lengthAdjust="spacingAndGlyphs" fill="#333" stroke="#333" stroke-width="0.05">4.4</text><text x="193.61" y="183.5" font-size="6.7" text-anchor="middle" textLength="34" lengthAdjust="spacingAndGlyphs" fill="#151515" stroke="#151515" stroke-width="0.12">MDS/MPN</text><text x="227.06" y="77.37" font-size="6.5" text-anchor="middle" textLength="8.22" lengthAdjust="spacingAndGlyphs" fill="#333" stroke="#333" stroke-width="0.05">9.7</text><text x="241.11" y="122.1" font-size="6.5" text-anchor="middle" textLength="8.22" lengthAdjust="spacingAndGlyphs" fill="#333" stroke="#333" stroke-width="0.05">4.9</text><text x="234.08" y="183.5" font-size="6.7" text-anchor="middle" textLength="32.4" lengthAdjust="spacingAndGlyphs" fill="#151515" stroke="#151515" stroke-width="0.12">Lymphoma</text></g><g transform="translate(260.3 389.6)"><text x="7.7" y="18.7" font-size="13.6" font-weight="bold" fill="#000" stroke="#000" stroke-width="0.3">E</text><text x="48.4" y="172" font-size="7.3" text-anchor="end" fill="#1a1a1a" stroke="#1a1a1a" stroke-width="0.07">0.0</text><text x="48.4" y="142.66" font-size="7.3" text-anchor="end" fill="#1a1a1a" stroke="#1a1a1a" stroke-width="0.07">10.0</text><text x="48.4" y="113.32" font-size="7.3" text-anchor="end" fill="#1a1a1a" stroke="#1a1a1a" stroke-width="0.07">20.0</text><text x="48.4" y="83.98" font-size="7.3" text-anchor="end" fill="#1a1a1a" stroke="#1a1a1a" stroke-width="0.07">30.0</text><text x="48.4" y="54.64" font-size="7.3" text-anchor="end" fill="#1a1a1a" stroke="#1a1a1a" stroke-width="0.07">40.0</text><text x="48.4" y="25.3" font-size="7.3" text-anchor="end" fill="#1a1a1a" stroke="#1a1a1a" stroke-width="0.07">50.0</text><text transform="translate(28.2 97) rotate(-90)" x="0" y="0" font-size="9.2" text-anchor="middle" stroke="#111" stroke-width="0.3" textLength="98.8" lengthAdjust="spacingAndGlyphs" fill="#111">Mean medicare spending in $1,000</text><text x="72.5" y="30.3" font-size="6.1" textLength="54.4" lengthAdjust="spacingAndGlyphs" fill="#2a2a2a" stroke="#2a2a2a" stroke-width="0.06">Adjusted means ratio:</text><text x="72.5" y="40.4" font-size="6.1" textLength="19.2" lengthAdjust="spacingAndGlyphs" fill="#2a2a2a" stroke="#2a2a2a" stroke-width="0.06">95%CI:</text><text x="141.7" y="30.3" font-size="6.1" textLength="15.9" lengthAdjust="spacingAndGlyphs" fill="#2a2a2a" stroke="#2a2a2a" stroke-width="0.06">0.620</text><text x="141.7" y="40.4" font-size="6.1" textLength="32.4" lengthAdjust="spacingAndGlyphs" fill="#2a2a2a" stroke="#2a2a2a" stroke-width="0.06">0.606-0.636</text><text x="198.7" y="30" font-size="6.1" textLength="50.6" lengthAdjust="spacingAndGlyphs" fill="#2a2a2a" stroke="#2a2a2a" stroke-width="0.06">No hospice services</text><text x="198.7" y="40.4" font-size="6.1" textLength="42.6" lengthAdjust="spacingAndGlyphs" fill="#2a2a2a" stroke="#2a2a2a" stroke-width="0.06">Hospice services</text><text x="65.23" y="62.26" font-size="6.5" text-anchor="middle" textLength="15.13" lengthAdjust="spacingAndGlyphs" fill="#333" stroke="#333" stroke-width="0.05">$35.5</text><text x="79.28" y="111.51" font-size="6.5" text-anchor="middle" textLength="15.13" lengthAdjust="spacingAndGlyphs" fill="#333" stroke="#333" stroke-width="0.05">$18.9</text><text x="72.25" y="183.5" font-size="6.7" text-anchor="middle" textLength="25.3" lengthAdjust="spacingAndGlyphs" fill="#151515" stroke="#151515" stroke-width="0.12">All types</text><text x="105.75" y="49.06" font-size="6.5" text-anchor="middle" textLength="15.13" lengthAdjust="spacingAndGlyphs" fill="#333" stroke="#333" stroke-width="0.05">$39.2</text><text x="119.8" y="102.3" font-size="6.5" text-anchor="middle" textLength="15.13" lengthAdjust="spacingAndGlyphs" fill="#333" stroke="#333" stroke-width="0.05">$21.7</text><text x="112.77" y="183.5" font-size="6.7" text-anchor="middle" textLength="28.4" lengthAdjust="spacingAndGlyphs" fill="#151515" stroke="#151515" stroke-width="0.12">Leukemia</text><text x="146.27" y="69.08" font-size="6.5" text-anchor="middle" textLength="15.13" lengthAdjust="spacingAndGlyphs" fill="#333" stroke="#333" stroke-width="0.05">$32.5</text><text x="160.32" y="113.9" font-size="6.5" text-anchor="middle" textLength="15.13" lengthAdjust="spacingAndGlyphs" fill="#333" stroke="#333" stroke-width="0.05">$17.9</text><text x="153.29" y="183.5" font-size="6.7" text-anchor="middle" textLength="26.8" lengthAdjust="spacingAndGlyphs" fill="#151515" stroke="#151515" stroke-width="0.12">Myeloma</text><text x="186.78" y="66.81" font-size="6.5" text-anchor="middle" textLength="15.13" lengthAdjust="spacingAndGlyphs" fill="#333" stroke="#333" stroke-width="0.05">$32.8</text><text x="200.84" y="116.32" font-size="6.5" text-anchor="middle" textLength="15.13" lengthAdjust="spacingAndGlyphs" fill="#333" stroke="#333" stroke-width="0.05">$16.9</text><text x="193.81" y="183.5" font-size="6.7" text-anchor="middle" textLength="34" lengthAdjust="spacingAndGlyphs" fill="#151515" stroke="#151515" stroke-width="0.12">MDS/MPN</text><text x="227.31" y="61.9" font-size="6.5" text-anchor="middle" textLength="15.13" lengthAdjust="spacingAndGlyphs" fill="#333" stroke="#333" stroke-width="0.05">$35.2</text><text x="241.36" y="112.86" font-size="6.5" text-anchor="middle" textLength="15.13" lengthAdjust="spacingAndGlyphs" fill="#333" stroke="#333" stroke-width="0.05">$18.4</text><text x="234.33" y="183.5" font-size="6.7" text-anchor="middle" textLength="32.4" lengthAdjust="spacingAndGlyphs" fill="#151515" stroke="#151515" stroke-width="0.12">Lymphoma</text></g>
</svg>
</body></html>
